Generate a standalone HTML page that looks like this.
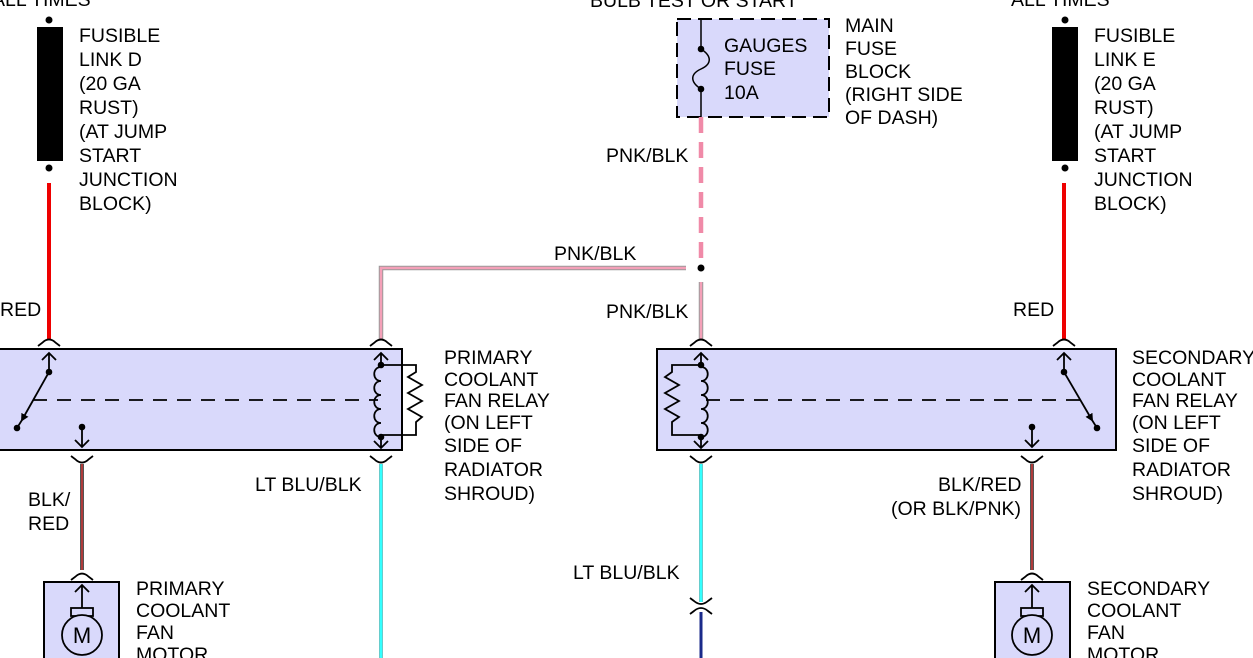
<!DOCTYPE html>
<html><head><meta charset="utf-8"><style>
html,body{margin:0;padding:0;background:#fff;width:1253px;height:658px;overflow:hidden}
svg{display:block}
text{font-family:"Liberation Sans",Arial,sans-serif;font-size:19.5px;fill:#000}
</style></head><body>
<svg width="1253" height="658" viewBox="0 0 1253 658" xmlns="http://www.w3.org/2000/svg">
<defs>
<marker id="ah" markerWidth="8" markerHeight="8" refX="6" refY="4" orient="auto" markerUnits="userSpaceOnUse"><path d="M0,0 L8,4 L0,8 z" fill="#000"/></marker>
</defs>
<text x="-8" y="6">ALL TIMES</text>
<text x="590" y="7">BULB TEST OR START</text>
<text x="1011" y="6">ALL TIMES</text>

<circle cx="49" cy="20" r="3.5" fill="#000"/>
<rect x="37" y="27" width="26" height="134" fill="#000"/>
<circle cx="49" cy="168" r="3.5" fill="#000"/>
<g>
<text x="79" y="42">FUSIBLE</text><text x="79" y="66">LINK D</text><text x="79" y="90">(20 GA</text><text x="79" y="114">RUST)</text><text x="79" y="138">(AT JUMP</text><text x="79" y="162">START</text><text x="79" y="186">JUNCTION</text><text x="79" y="210">BLOCK)</text>
</g>
<circle cx="1065" cy="20" r="3.5" fill="#000"/>
<rect x="1052" y="27" width="26" height="134" fill="#000"/>
<circle cx="1065" cy="168" r="3.5" fill="#000"/>
<g>
<text x="1094" y="42">FUSIBLE</text><text x="1094" y="66">LINK E</text><text x="1094" y="90">(20 GA</text><text x="1094" y="114">RUST)</text><text x="1094" y="138">(AT JUMP</text><text x="1094" y="162">START</text><text x="1094" y="186">JUNCTION</text><text x="1094" y="210">BLOCK)</text>
</g>

<line x1="49" y1="183" x2="49" y2="339" stroke="#e00" stroke-width="4"/>
<line x1="1064" y1="183" x2="1064" y2="339" stroke="#e00" stroke-width="4"/>
<text x="0" y="316">RED</text>
<text x="1013" y="316">RED</text>

<rect x="677" y="19" width="152" height="98" fill="#d9d9fb" stroke="#000" stroke-width="2" stroke-dasharray="14,7"/>
<line x1="701" y1="19" x2="701" y2="49" stroke="#000" stroke-width="1.5"/>
<line x1="701" y1="89" x2="701" y2="117" stroke="#000" stroke-width="1.5"/>
<path d="M701,49 C712,56 712,64 701,69 C690,74 690,82 701,89" fill="none" stroke="#000" stroke-width="1.5"/>
<circle cx="701" cy="49" r="3.3" fill="#000"/><circle cx="701" cy="89" r="3.3" fill="#000"/>
<text x="724" y="52">GAUGES</text><text x="724" y="75">FUSE</text><text x="724" y="99">10A</text>
<text x="845" y="32">MAIN</text><text x="845" y="55">FUSE</text><text x="845" y="78">BLOCK</text><text x="845" y="101">(RIGHT SIDE</text><text x="845" y="124">OF DASH)</text>

<line x1="701" y1="117" x2="701" y2="262" stroke="#f08aa8" stroke-width="4.5" stroke-dasharray="16,9"/>
<path d="M686,268 L381,268 L381,339" fill="none" stroke="#999" stroke-width="4.5"/>
<path d="M686,268 L381,268 L381,339" fill="none" stroke="#f4a0b8" stroke-width="2.5"/>
<line x1="701" y1="282" x2="701" y2="339" stroke="#999" stroke-width="4.5"/>
<line x1="701" y1="282" x2="701" y2="339" stroke="#f4a0b8" stroke-width="2.5"/>
<circle cx="701" cy="268" r="3.5" fill="#000"/>
<text x="606" y="162">PNK/BLK</text>
<text x="554" y="260">PNK/BLK</text>
<text x="606" y="318">PNK/BLK</text>

<rect x="-2" y="349" width="404" height="101" fill="#d9d9fb" stroke="#000" stroke-width="2"/>
<rect x="657" y="349" width="459" height="101" fill="#d9d9fb" stroke="#000" stroke-width="2"/>

<g fill="none" stroke="#000" stroke-width="1.8">
<path d="M38,346 L42,343 Q49,336 56,343 L60,346"/>
<path d="M370,346 L374,343 Q381,336 388,343 L392,346"/>
<path d="M690,346 L694,343 Q701,336 708,343 L712,346"/>
<path d="M1053,346 L1057,343 Q1064,336 1071,343 L1075,346"/>
<path d="M71,456 L75,459 Q82,466 89,459 L93,456"/>
<path d="M370,456 L374,459 Q381,466 388,459 L392,456"/>
<path d="M690,456 L694,459 Q701,466 708,459 L712,456"/>
<path d="M1021,456 L1025,459 Q1032,466 1039,459 L1043,456"/>
<path d="M71,580 L75,577 Q82,570 89,577 L93,580"/>
<path d="M1021,580 L1025,577 Q1032,570 1039,577 L1043,580"/>
<path d="M690,598 L694,601 Q701,607 708,601 L712,598"/>
<path d="M690,614 L694,611 Q701,605 708,611 L712,614"/>

<path d="M49,372 L49,353 M42,360 L49,353 L56,360"/>
<line x1="49" y1="372" x2="22" y2="420" marker-end="url(#ah)"/>
<line x1="22" y1="420" x2="17" y2="428"/>
<path d="M82,427 L82,447 M75,440 L82,447 L89,440"/>
<line x1="33" y1="400" x2="378" y2="400" stroke-dasharray="14,10"/>
<path d="M381,365 L381,353 M374,360 L381,353 L388,360"/>
<path d="M381,437 L381,448 M374,441 L381,448 L388,441"/>
<path d="M381,367 C372,367 372,381 381,381 C372,381 372,395 381,395 C372,395 372,409 381,409 C372,409 372,423 381,423 C372,423 372,437 381,437"/>
<path d="M381,365 L416,365 L416,372 L408,377 L422,385 L408,393 L422,401 L408,409 L422,417 L416,422 L416,435 L381,435"/>

<path d="M701,365 L701,353 M694,360 L701,353 L708,360"/>
<path d="M701,437 L701,448 M694,441 L701,448 L708,441"/>
<path d="M701,367 C710,367 710,381 701,381 C710,381 710,395 701,395 C710,395 710,409 701,409 C710,409 710,423 701,423 C710,423 710,437 701,437"/>
<path d="M701,365 L672,365 L672,372 L665,377 L679,385 L665,393 L679,401 L665,409 L679,417 L672,422 L672,435 L701,435"/>
<line x1="706" y1="400" x2="1090" y2="400" stroke-dasharray="14,10"/>
<path d="M1064,372 L1064,353 M1057,360 L1064,353 L1071,360"/>
<line x1="1064" y1="372" x2="1092" y2="420" marker-end="url(#ah)"/>
<line x1="1092" y1="420" x2="1097" y2="428"/>
<path d="M1032,427 L1032,447 M1025,440 L1032,447 L1039,440"/>
</g>
<g fill="#000">
<circle cx="49" cy="372" r="3.3"/><circle cx="17" cy="428" r="3.3"/><circle cx="82" cy="427" r="3.3"/>
<circle cx="381" cy="365" r="3.3"/><circle cx="381" cy="437" r="3.3"/>
<circle cx="701" cy="365" r="3.3"/><circle cx="701" cy="437" r="3.3"/>
<circle cx="1064" cy="372" r="3.3"/><circle cx="1097" cy="428" r="3.3"/><circle cx="1032" cy="427" r="3.3"/>
</g>

<text x="444" y="364">PRIMARY</text><text x="444" y="386">COOLANT</text><text x="444" y="407">FAN RELAY</text><text x="444" y="429">(ON LEFT</text><text x="444" y="452">SIDE OF</text><text x="444" y="476">RADIATOR</text><text x="444" y="500">SHROUD)</text>
<text x="1132" y="364">SECONDARY</text><text x="1132" y="386">COOLANT</text><text x="1132" y="407">FAN RELAY</text><text x="1132" y="429">(ON LEFT</text><text x="1132" y="452">SIDE OF</text><text x="1132" y="476">RADIATOR</text><text x="1132" y="500">SHROUD)</text>

<line x1="82" y1="464" x2="82" y2="570" stroke="#555" stroke-width="4"/>
<line x1="82" y1="464" x2="82" y2="570" stroke="#c33" stroke-width="1.5"/>
<line x1="1032" y1="464" x2="1032" y2="570" stroke="#555" stroke-width="4"/>
<line x1="1032" y1="464" x2="1032" y2="570" stroke="#c33" stroke-width="1.5"/>
<line x1="381" y1="464" x2="381" y2="658" stroke="#6cc" stroke-width="4"/>
<line x1="381" y1="464" x2="381" y2="658" stroke="#3ff" stroke-width="2"/>
<line x1="701" y1="464" x2="701" y2="602" stroke="#6cc" stroke-width="4"/>
<line x1="701" y1="464" x2="701" y2="602" stroke="#3ff" stroke-width="2"/>
<line x1="701" y1="612" x2="701" y2="658" stroke="#1a2a8a" stroke-width="3"/>
<text x="28" y="506">BLK/</text><text x="28" y="530">RED</text>
<text x="255" y="491">LT BLU/BLK</text>
<text x="573" y="579">LT BLU/BLK</text>
<text x="938" y="491">BLK/RED</text><text x="891" y="515">(OR BLK/PNK)</text>

<rect x="44" y="582" width="75" height="80" fill="#d9d9fb" stroke="#000" stroke-width="2"/>
<rect x="995" y="582" width="75" height="80" fill="#d9d9fb" stroke="#000" stroke-width="2"/>
<g fill="none" stroke="#000" stroke-width="1.8">
<path d="M82,608 L82,585 M75,592 L82,585 L89,592"/>
<rect x="71" y="608" width="22" height="8"/>
<circle cx="82" cy="635" r="20" fill="#d9d9fb"/>
<path d="M1032,608 L1032,585 M1025,592 L1032,585 L1039,592"/>
<rect x="1021" y="608" width="22" height="8"/>
<circle cx="1032" cy="635" r="20" fill="#d9d9fb"/>
</g>
<text x="82" y="643" text-anchor="middle" style="font-size:22px">M</text>
<text x="1032" y="643" text-anchor="middle" style="font-size:22px">M</text>
<text x="136" y="595">PRIMARY</text><text x="136" y="617">COOLANT</text><text x="136" y="639">FAN</text><text x="136" y="661">MOTOR</text>
<text x="1087" y="595">SECONDARY</text><text x="1087" y="617">COOLANT</text><text x="1087" y="639">FAN</text><text x="1087" y="661">MOTOR</text>
</svg>
</body></html>
